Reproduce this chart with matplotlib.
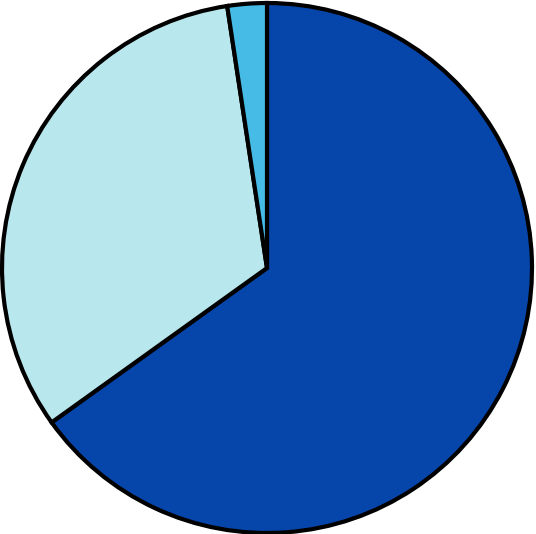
import matplotlib
matplotlib.use("Agg")
import matplotlib.pyplot as plt

labels = ["A", "B", "C"]
values = [65.1, 32.5, 2.4]
colors = ["#0646ab", "#b8e7ee", "#45bbe5"]

fig = plt.figure(figsize=(5.36, 5.34), dpi=100)
ax = fig.add_axes([0, 0, 1, 1])
ax.pie(values, colors=colors, startangle=90, counterclock=False, radius=1.0,
       wedgeprops=dict(edgecolor="black", linewidth=3.0, joinstyle="miter"))
R = 265.0
ax.set_xlim(-267 / R, 269 / R)
ax.set_ylim(-266 / R, 268 / R)
ax.set_aspect("auto")
ax.axis("off")
fig.savefig("out.png", dpi=100)
